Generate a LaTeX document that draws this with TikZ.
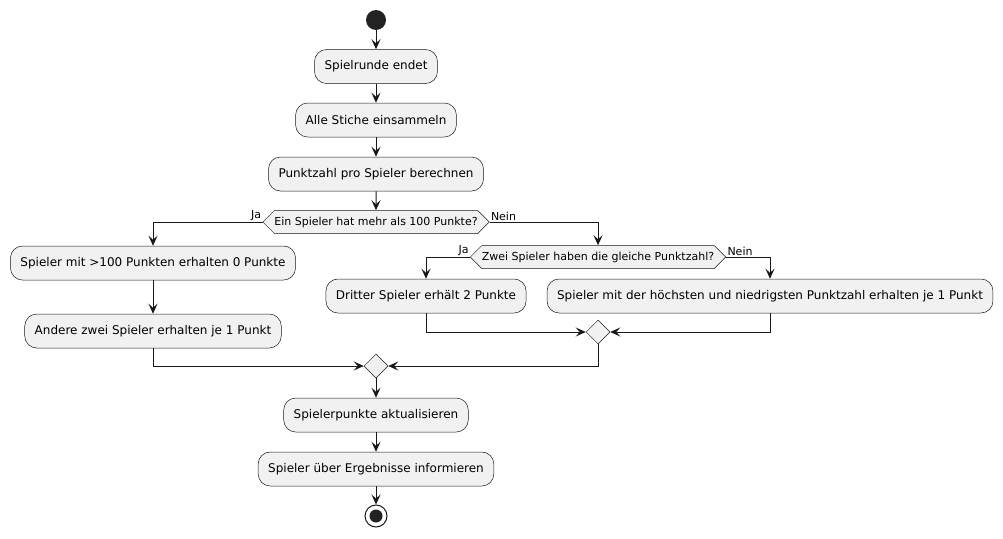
\documentclass[tikz,border=0pt]{standalone}
\usepackage{fontspec}
\setmainfont{DejaVu Sans}
\usetikzlibrary{shapes.symbols,shapes.geometric,arrows.meta}
\definecolor{boxfill}{HTML}{F1F1F1}
\definecolor{ink}{HTML}{181818}
\definecolor{dot}{HTML}{222222}

\begin{document}
\begin{tikzpicture}[x=1pt,y=-1pt,
  act/.style={draw=ink,fill=boxfill,rounded corners=12pt,minimum height=34pt,
    inner xsep=10pt,line width=0.5pt,font=\fontsize{12}{14}\selectfont},
  cond/.style={draw=ink,fill=boxfill,signal,signal to=west and east,
    minimum height=23pt,inner xsep=0pt,inner ysep=2pt,line width=0.5pt,
    font=\fontsize{11}{13}\selectfont},
  merge/.style={draw=ink,fill=boxfill,diamond,minimum size=24pt,inner sep=0pt,line width=0.5pt},
  flow/.style={draw=ink,line width=1pt,-{Stealth[length=10pt,width=9pt,inset=4pt]}},
  lbl/.style={font=\fontsize{11}{13}\selectfont,inner sep=1pt}]
  \useasboundingbox (0,0) rectangle (1003,538);
  \node[circle,fill=dot,minimum size=20pt,inner sep=0pt] (start) at (376,20) {};
  \node[act] (a1) at (376,66.5) {Spielrunde endet};
  \node[act] (a2) at (376,120) {Alle Stiche einsammeln};
  \node[act] (a3) at (376,174) {Punktzahl pro Spieler berechnen};
  \node[cond] (d1) at (376,222) {Ein Spieler hat mehr als 100 Punkte?};
  \node[act] (b1) at (153,263) {Spieler mit >100 Punkten erhalten 0 Punkte};
  \node[act] (b2) at (153,331) {Andere zwei Spieler erhalten je 1 Punkt};
  \node[cond] (d2) at (598,257) {Zwei Spieler haben die gleiche Punktzahl?};
  \node[act] (c1) at (426,296) {Dritter Spieler erhält 2 Punkte};
  \node[act] (c2) at (770,296) {Spieler mit der höchsten und niedrigsten Punktzahl erhalten je 1 Punkt};
  \node[merge] (m2) at (598,332) {};
  \node[merge] (m1) at (376,366) {};
  \node[act] (a4) at (376,415) {Spielerpunkte aktualisieren};
  \node[act] (a5) at (376,469) {Spieler über Ergebnisse informieren};
  \node[circle,draw=ink,fill=white,line width=1pt,minimum size=22pt,inner sep=0pt] (stop) at (376,516) {};
  \fill[dot] (stop) circle (6.5pt);

  \draw[flow] (start) -- (a1);
  \draw[flow] (a1) -- (a2);
  \draw[flow] (a2) -- (a3);
  \draw[flow] (a3) -- (d1);
  \draw[flow] (d1.west) node[lbl,above left] {Ja} -| (b1);
  \draw[flow] (b1) -- (b2);
  \draw[flow] (d1.east) node[lbl,above right] {Nein} -| (d2);
  \draw[flow] (d2.west) node[lbl,above left] {Ja} -| (c1);
  \draw[flow] (d2.east) node[lbl,above right] {Nein} -| (c2);
  \draw[flow] (c1) |- (m2);
  \draw[flow] (c2) |- (m2);
  \draw[flow] (b2) |- (m1);
  \draw[flow] (m2) |- (m1);
  \draw[flow] (m1) -- (a4);
  \draw[flow] (a4) -- (a5);
  \draw[flow] (a5) -- (stop);
\end{tikzpicture}
\end{document}
